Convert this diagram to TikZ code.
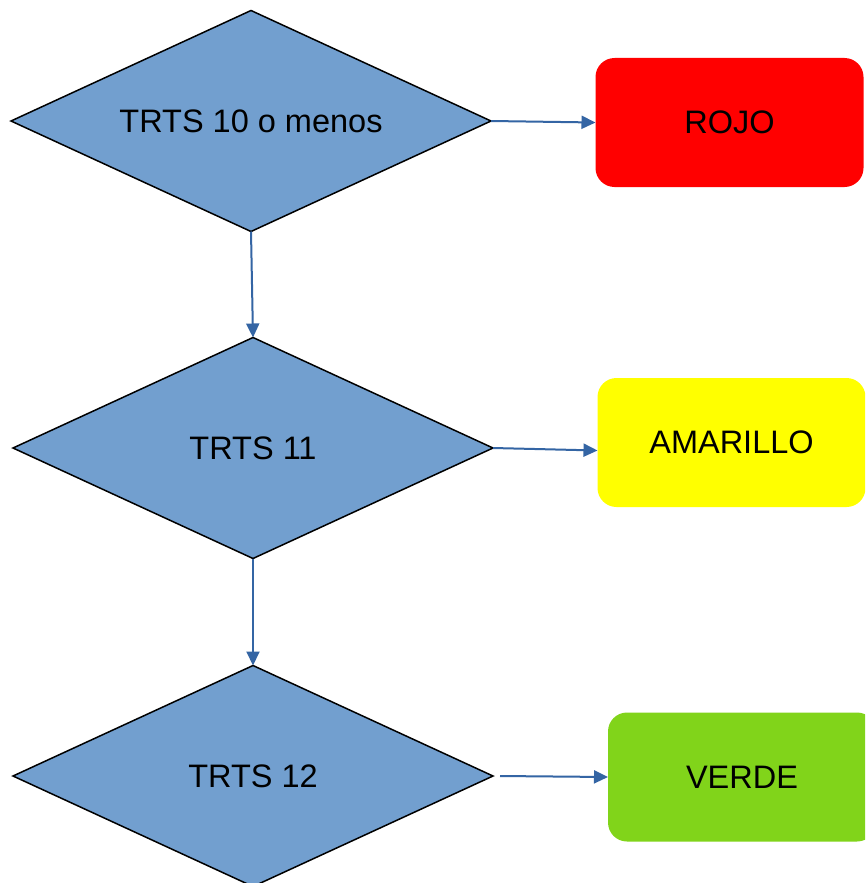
\documentclass[tikz,border=0pt]{standalone}
\usepackage{fontspec}
\setmainfont{Liberation Sans}
\usetikzlibrary{shapes.geometric,arrows.meta}
\definecolor{dfill}{HTML}{729FCF}
\definecolor{arrowc}{HTML}{3465A4}
\definecolor{rojoc}{HTML}{FF0000}
\definecolor{amac}{HTML}{FFFF00}
\definecolor{verdec}{HTML}{81D41A}
\tikzset{
  dec/.style={diamond, shape aspect=2.16, draw=black, line width=1.5pt, fill=dfill,
    minimum width=480pt, minimum height=221pt, inner sep=0pt, outer sep=0pt,
    font=\fontsize{32.5}{38}\selectfont},
  resbox/.style={rectangle, rounded corners=19pt, minimum width=268pt, minimum height=129pt,
    inner sep=0pt, outer sep=0pt, font=\fontsize{32.5}{38}\selectfont},
  conn/.style={draw=arrowc, line width=2pt, -{Triangle[length=14pt,width=13pt]}}
}
\begin{document}
\begin{tikzpicture}[x=1pt,y=-1pt]
\clip (0,0) rectangle (865,883);
\fill[white] (0,0) rectangle (865,883);
\node[dec] (d1) at (251,121) {TRTS 10 o menos};
\node[dec] (d2) at (253,448) {TRTS 11};
\node[dec] (d3) at (253,776) {TRTS 12};
\node[resbox, fill=rojoc] (rojo) at (729.5,122.5) {ROJO};
\node[resbox, fill=amac] (ama) at (731.5,442.5) {AMARILLO};
\node[resbox, fill=verdec] (verde) at (742,777) {VERDE};
\draw[conn] (d1.east) -- (rojo.west);
\draw[conn] (d2.east) -- ([yshift=-8pt]ama.west);
\draw[conn] ([xshift=7pt]d3.east) -- (verde.west);
\draw[conn] (d1.south) -- (d2.north);
\draw[conn] (d2.south) -- (d3.north);
\end{tikzpicture}
\end{document}
